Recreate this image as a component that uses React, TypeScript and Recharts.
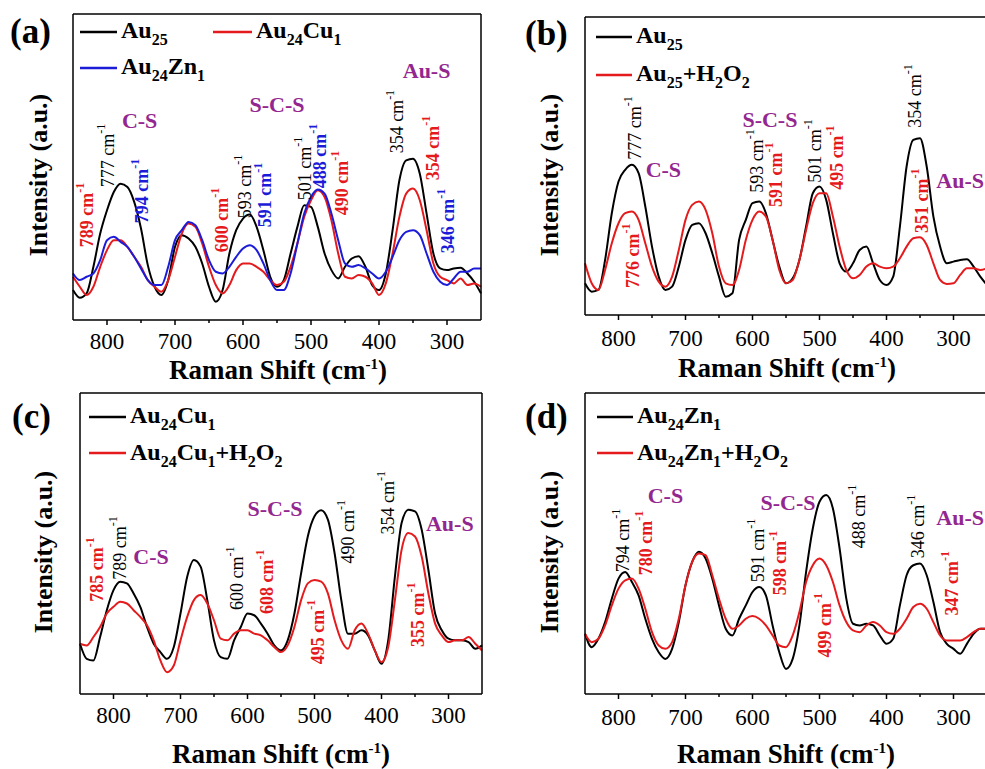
import React from 'react';
import { LineChart, Line, XAxis, YAxis, ReferenceDot } from 'recharts';

const FONT = "'Liberation Serif', 'DejaVu Serif', serif";
const BLACK = '#000000';
const RED = '#e41a1c';
const BLUE = '#1c1cd8';
const PURPLE = '#93278f';

// Raman shift sampling (cm-1)
const shifts = [
  850, 840, 830, 820, 810, 800, 790, 780, 770, 760, 750, 740, 730, 720, 710, 700, 690, 680, 670, 660,
  650, 640, 630, 620, 610, 600, 590, 580, 570, 560, 550, 540, 530, 520, 510, 500, 490, 480, 470, 460,
  450, 440, 430, 420, 410, 400, 390, 380, 370, 360, 350, 340, 330, 320, 310, 300, 290, 280, 270, 260, 250,
];
const tickValues = [800, 750, 700, 650, 600, 550, 500, 450, 400, 350, 300];

// (a)
const aAu25 = [
  90, 67, 80, 160, 260, 330, 385, 410, 400, 355, 275, 165, 100, 75, 120, 220, 255, 245, 220, 170,
  100, 55, 90, 200, 270, 305, 317, 280, 210, 130, 100, 120, 200, 280, 345, 340, 280, 200, 150, 125,
  160, 185, 192, 160, 105, 90, 140, 270, 420, 480, 485, 440, 320, 200, 155, 150, 155, 157, 140, 115, 80,
];
const aAu24Cu1 = [
  130, 100, 75, 100, 160, 210, 240, 240, 220, 190, 160, 120, 100, 85, 120, 190, 260, 290, 280, 230,
  160, 105, 80, 105, 150, 170, 170, 160, 145, 120, 105, 115, 160, 230, 310, 360, 390, 370, 300, 200,
  130, 125, 135, 130, 110, 75, 110, 200, 310, 380, 395, 360, 270, 170, 130, 120, 110, 125, 105, 110, 100,
];
const aAu24Zn1 = [
  140, 120, 130, 140, 180, 240, 250, 235, 220, 190, 155, 120, 105, 105, 160, 240, 270, 295, 285, 240,
  180, 145, 140, 160, 190, 215, 225, 210, 170, 120, 90, 90, 140, 230, 320, 370, 392, 380, 320, 240,
  170, 160, 165, 155, 140, 125, 145, 190, 240, 265, 270, 255, 200, 145, 115, 105, 125, 145, 145, 155, 155,
];

// (b)
const bAu25 = [
  95, 70, 75, 165, 305, 400, 435, 450, 425, 325, 205, 115, 75, 85, 145, 225, 270, 275, 245, 185,
  115, 55, 65, 225, 285, 335, 340, 305, 225, 145, 95, 110, 165, 265, 365, 385, 345, 245, 155, 130,
  155, 195, 205, 155, 105, 90, 115, 265, 445, 525, 530, 445, 295, 205, 155, 160, 165, 167, 145, 115, 90,
];
const bAu25H2O2 = [
  155, 95, 75, 135, 215, 275, 305, 310, 285, 215, 145, 100, 85, 115, 195, 285, 330, 340, 315, 245,
  145, 95, 90, 135, 225, 285, 310, 295, 225, 135, 95, 105, 165, 255, 335, 365, 365, 295, 205, 135,
  110, 120, 145, 155, 145, 140, 145, 170, 205, 230, 233, 210, 155, 105, 93, 95, 120, 140, 140, 135, 140,
];

// (c)
const cAu24Cu1 = [
  150, 105, 100, 170, 250, 310, 335, 330, 300, 260, 200, 150, 125, 105, 140, 240, 350, 400, 380, 280,
  160, 110, 105, 160, 200, 240, 235, 210, 180, 145, 130, 160, 240, 360, 470, 530, 548, 520, 420, 280,
  180, 180, 190, 175, 130, 90, 160, 350, 510, 550, 545, 490, 370, 240, 190, 165, 160, 160, 155, 135, 145,
];
const cAu24Cu1H2O2 = [
  150, 145, 170, 200, 240, 260, 275, 270, 250, 230, 205, 160, 100, 65, 85, 160, 230, 280, 295, 270,
  220, 165, 160, 180, 190, 190, 180, 175, 160, 140, 125, 145, 200, 280, 330, 340, 335, 300, 220, 160,
  135, 190, 210, 180, 130, 95, 140, 280, 430, 480, 470, 410, 300, 210, 175, 155, 160, 160, 170, 150, 130,
];

// (d)
const dAu24Zn1 = [
  180, 140, 165, 215, 285, 345, 365, 335, 295, 225, 165, 125, 105, 135, 215, 325, 395, 425, 405, 345,
  265, 195, 175, 225, 265, 305, 320, 295, 205, 125, 75, 105, 205, 365, 495, 575, 595, 555, 435, 285,
  210, 205, 210, 205, 175, 150, 165, 265, 355, 385, 390, 355, 275, 185, 150, 135, 120, 150, 180, 195, 195,
];
const dAu24Zn1H2O2 = [
  180, 155, 165, 205, 265, 315, 340, 345, 315, 255, 185, 145, 135, 155, 225, 325, 395, 420, 415, 355,
  285, 225, 195, 205, 225, 233, 225, 205, 175, 145, 140, 175, 245, 335, 385, 405, 385, 335, 265, 215,
  190, 185, 205, 215, 205, 185, 180, 195, 225, 260, 270, 255, 215, 175, 160, 160, 160, 170, 185, 195, 195,
];

// peak labels: shift, intensity at the start of the text
type Note = { x: number; y: number; text: string; color: string };
const notesA: Note[] = [
  { x: 830, y: 219, text: '789', color: RED },
  { x: 799, y: 399, text: '777', color: BLACK },
  { x: 749, y: 291, text: '794', color: BLUE },
  { x: 631, y: 204, text: '600', color: RED },
  { x: 597, y: 306, text: '593', color: BLACK },
  { x: 568, y: 279, text: '591', color: BLUE },
  { x: 509, y: 360, text: '501', color: BLACK },
  { x: 487, y: 396, text: '488', color: BLUE },
  { x: 455, y: 315, text: '490', color: RED },
  { x: 374, y: 501, text: '354', color: BLACK },
  { x: 320, y: 420, text: '354', color: RED },
  { x: 299, y: 201, text: '346', color: BLUE },
];
const notesB: Note[] = [
  { x: 775, y: 465, text: '777', color: BLACK },
  { x: 778, y: 81, text: '776', color: RED },
  { x: 593, y: 366, text: '593', color: BLACK },
  { x: 565, y: 324, text: '591', color: RED },
  { x: 506, y: 396, text: '501', color: BLACK },
  { x: 474, y: 375, text: '495', color: RED },
  { x: 357, y: 561, text: '354', color: BLACK },
  { x: 347, y: 246, text: '351', color: RED },
];
const notesC: Note[] = [
  { x: 824, y: 275, text: '785', color: RED },
  { x: 791, y: 341, text: '789', color: BLACK },
  { x: 615, y: 251, text: '600', color: BLACK },
  { x: 571, y: 239, text: '608', color: RED },
  { x: 450, y: 389, text: '490', color: BLACK },
  { x: 495, y: 89, text: '495', color: RED },
  { x: 390, y: 476, text: '354', color: BLACK },
  { x: 345, y: 140, text: '355', color: RED },
];
const notesD: Note[] = [
  { x: 793, y: 364, text: '794', color: BLACK },
  { x: 759, y: 355, text: '780', color: RED },
  { x: 592, y: 334, text: '591', color: BLACK },
  { x: 559, y: 295, text: '598', color: RED },
  { x: 492, y: 109, text: '499', color: RED },
  { x: 441, y: 436, text: '488', color: BLACK },
  { x: 353, y: 406, text: '346', color: BLACK },
  { x: 302, y: 235, text: '347', color: RED },
];

type Band = { x: number; y: number; text: string };
const bandsA: Band[] = [
  { x: 752, y: 576, text: 'C-S' },
  { x: 550, y: 624, text: 'S-C-S' },
  { x: 330, y: 729, text: 'Au-S' },
];
const bandsB: Band[] = [
  { x: 733, y: 414, text: 'C-S' },
  { x: 574, y: 564, text: 'S-C-S' },
  { x: 290, y: 381, text: 'Au-S' },
];
const bandsC: Band[] = [
  { x: 744, y: 389, text: 'C-S' },
  { x: 559, y: 530, text: 'S-C-S' },
  { x: 298, y: 485, text: 'Au-S' },
];
const bandsD: Band[] = [
  { x: 730, y: 571, text: 'C-S' },
  { x: 547, y: 550, text: 'S-C-S' },
  { x: 290, y: 505, text: 'Au-S' },
];

type Series = { values: number[]; color: string };

const serif = { fontFamily: FONT };

function ShiftTick({ x, y, value, offset }: { x: number; y: number; value: number; offset: number }) {
  const major = value % 100 === 0;
  return (
    <g>
      <line x1={x} x2={x} y1={y} y2={y + (major ? 5 : 3)} stroke="#000" strokeWidth={1.5} />
      {major && (
        <text x={x} y={y + offset} textAnchor="middle" style={serif} fontSize={23} fill="#000">
          {value}
        </text>
      )}
    </g>
  );
}

function PeakText({ cx, cy, note }: { cx: number; cy: number; note: Note }) {
  return (
    <text
      x={cx}
      y={cy}
      transform={`rotate(-90 ${cx} ${cy})`}
      textAnchor="start"
      dominantBaseline="central"
      style={serif}
      fontSize={18}
      fontWeight={note.color === BLACK ? 'normal' : 'bold'}
      fill={note.color}
    >
      {note.text} cm
      <tspan dy={-7} fontSize={12}>-1</tspan>
    </text>
  );
}

function BandText({ cx, cy, text }: { cx: number; cy: number; text: string }) {
  return (
    <text x={cx} y={cy} textAnchor="middle" style={serif} fontSize={22} fontWeight="bold" fill={PURPLE}>
      {text}
    </text>
  );
}

const frame = { stroke: '#000', strokeWidth: 1.5 };

function Panel({
  left, top, width, height, margin, yMax, series, notes, bands, tickOffset,
}: {
  left: number; top: number; width: number; height: number;
  margin: { top: number; right: number; bottom: number; left: number };
  yMax: number; series: Series[]; notes: Note[]; bands: Band[]; tickOffset: number;
}) {
  const rows = shifts.map((s, i) => {
    const row: Record<string, number> = { shift: s };
    series.forEach((se, j) => {
      row['s' + j] = se.values[i];
    });
    return row;
  });
  // the four frame axes are 1px thick, so the margins are reduced by 1
  const m = { top: margin.top - 1, right: margin.right - 1, bottom: margin.bottom - 1, left: margin.left - 1 };
  return (
    <div style={{ position: 'absolute', left, top }}>
      <LineChart width={width} height={height} data={rows} margin={m}>
        <XAxis
          xAxisId="b"
          dataKey="shift"
          type="number"
          domain={[250, 850]}
          reversed
          ticks={tickValues}
          interval={0}
          height={1}
          tickSize={0}
          tickMargin={0}
          tickLine={false}
          axisLine={frame}
          tick={(p: any) => <ShiftTick x={p.x} y={p.y} value={p.payload.value} offset={tickOffset} />}
        />
        <XAxis xAxisId="t" orientation="top" dataKey="shift" type="number" domain={[250, 850]} reversed height={1} tick={false} tickLine={false} axisLine={frame} />
        <YAxis yAxisId="l" type="number" domain={[0, yMax]} width={1} tick={false} tickLine={false} axisLine={frame} />
        <YAxis yAxisId="r" orientation="right" type="number" domain={[0, yMax]} width={1} tick={false} tickLine={false} axisLine={frame} />
        {series.map((se, j) => (
          <Line
            key={j}
            xAxisId="b"
            yAxisId="l"
            dataKey={'s' + j}
            type="monotone"
            stroke={se.color}
            strokeWidth={2}
            dot={false}
            isAnimationActive={false}
          />
        ))}
        {notes.map((n, k) => (
          <ReferenceDot
            key={'n' + k}
            xAxisId="b"
            yAxisId="l"
            x={n.x}
            y={n.y}
            r={0}
            ifOverflow="visible"
            shape={(p: any) => <PeakText cx={p.cx} cy={p.cy} note={n} />}
          />
        ))}
        {bands.map((b, k) => (
          <ReferenceDot
            key={'b' + k}
            xAxisId="b"
            yAxisId="l"
            x={b.x}
            y={b.y}
            r={0}
            ifOverflow="visible"
            shape={(p: any) => <BandText cx={p.cx} cy={p.cy} text={b.text} />}
          />
        ))}
      </LineChart>
    </div>
  );
}

function Formula({ text, size }: { text: string; size: number }) {
  const parts = text.split(/_\{([^}]*)\}/);
  const sub = Math.round(size * 0.66);
  const shift = Math.round(size * 0.3);
  let down = false;
  const out: React.ReactNode[] = [];
  parts.forEach((p, i) => {
    if (!p) return;
    const isSub = i % 2 === 1;
    let dy = 0;
    if (isSub && !down) {
      dy = shift;
      down = true;
    } else if (!isSub && down) {
      dy = -shift;
      down = false;
    }
    out.push(
      <tspan key={i} dy={dy} fontSize={isSub ? sub : size}>
        {p}
      </tspan>,
    );
  });
  return <>{out}</>;
}

function LegendItem({ x1, x2, y, ty, label, color }: { x1: number; x2: number; y: number; ty: number; label: string; color: string }) {
  return (
    <g>
      <line x1={x1} x2={x2} y1={y} y2={y} stroke={color} strokeWidth={2.5} />
      <text x={x2 + 4} y={ty} style={serif} fontWeight="bold" fontSize={24} fill="#000">
        <Formula text={label} size={24} />
      </text>
    </g>
  );
}

function YTitle({ x, y }: { x: number; y: number }) {
  return (
    <text
      x={x}
      y={y}
      transform={`rotate(-90 ${x} ${y})`}
      textAnchor="middle"
      dominantBaseline="central"
      style={serif}
      fontWeight="bold"
      fontSize={26}
      fill="#000"
    >
      Intensity (a.u.)
    </text>
  );
}

function XTitle({ x, y }: { x: number; y: number }) {
  return (
    <text x={x} y={y} textAnchor="middle" style={serif} fontWeight="bold" fontSize={27} fill="#000">
      Raman Shift (cm
      <tspan dy={-10} fontSize={15}>-1</tspan>
      <tspan dy={10} fontSize={27}>)</tspan>
    </text>
  );
}

function PanelLabel({ x, y, text }: { x: number; y: number; text: string }) {
  return (
    <text x={x} y={y} style={serif} fontWeight="bold" fontSize={35} fill="#000">
      {text}
    </text>
  );
}

export default function App() {
  return (
    <div style={{ position: 'absolute', left: 0, top: 0, width: 985, height: 769, overflow: 'hidden', background: '#fff', fontFamily: FONT }}>
      <Panel
        left={0} top={0} width={490} height={385}
        margin={{ top: 14, right: 9, bottom: 65, left: 73 }}
        yMax={920}
        series={[
          { values: aAu25, color: BLACK },
          { values: aAu24Cu1, color: RED },
          { values: aAu24Zn1, color: BLUE },
        ]}
        notes={notesA} bands={bandsA} tickOffset={29}
      />
      <Panel
        left={490} top={0} width={500} height={385}
        margin={{ top: 17, right: 3, bottom: 70, left: 95 }}
        yMax={893}
        series={[
          { values: bAu25, color: BLACK },
          { values: bAu25H2O2, color: RED },
        ]}
        notes={notesB} bands={bandsB} tickOffset={31}
      />
      <Panel
        left={0} top={385} width={490} height={384}
        margin={{ top: 8, right: 8, bottom: 75, left: 80 }}
        yMax={898}
        series={[
          { values: cAu24Cu1, color: BLACK },
          { values: cAu24Cu1H2O2, color: RED },
        ]}
        notes={notesC} bands={bandsC} tickOffset={29}
      />
      <Panel
        left={490} top={385} width={500} height={384}
        margin={{ top: 8, right: 3, bottom: 75, left: 95 }}
        yMax={900}
        series={[
          { values: dAu24Zn1, color: BLACK },
          { values: dAu24Zn1H2O2, color: RED },
        ]}
        notes={notesD} bands={bandsD} tickOffset={31}
      />
      <svg width={985} height={769} style={{ position: 'absolute', left: 0, top: 0, pointerEvents: 'none' }}>
        <PanelLabel x={10} y={43} text="(a)" />
        <PanelLabel x={525} y={45} text="(b)" />
        <PanelLabel x={12} y={428} text="(c)" />
        <PanelLabel x={525} y={428} text="(d)" />

        <LegendItem x1={80} x2={117} y={32} ty={38} label="Au_{25}" color={BLACK} />
        <LegendItem x1={213} x2={252} y={32} ty={38} label="Au_{24}Cu_{1}" color={RED} />
        <LegendItem x1={80} x2={117} y={68} ty={74} label="Au_{24}Zn_{1}" color={BLUE} />

        <LegendItem x1={596} x2={632} y={37} ty={43} label="Au_{25}" color={BLACK} />
        <LegendItem x1={596} x2={632} y={75} ty={81} label="Au_{25}+H_{2}O_{2}" color={RED} />

        <LegendItem x1={89} x2={126} y={417} ty={423} label="Au_{24}Cu_{1}" color={BLACK} />
        <LegendItem x1={89} x2={126} y={453} ty={460} label="Au_{24}Cu_{1}+H_{2}O_{2}" color={RED} />

        <LegendItem x1={597} x2={633} y={417} ty={423} label="Au_{24}Zn_{1}" color={BLACK} />
        <LegendItem x1={597} x2={633} y={453} ty={460} label="Au_{24}Zn_{1}+H_{2}O_{2}" color={RED} />

        <YTitle x={38} y={175} />
        <YTitle x={549} y={175} />
        <YTitle x={43} y={552} />
        <YTitle x={549} y={552} />

        <XTitle x={278} y={379} />
        <XTitle x={787} y={377} />
        <XTitle x={281} y={763} />
        <XTitle x={786} y={763} />
      </svg>
    </div>
  );
}
